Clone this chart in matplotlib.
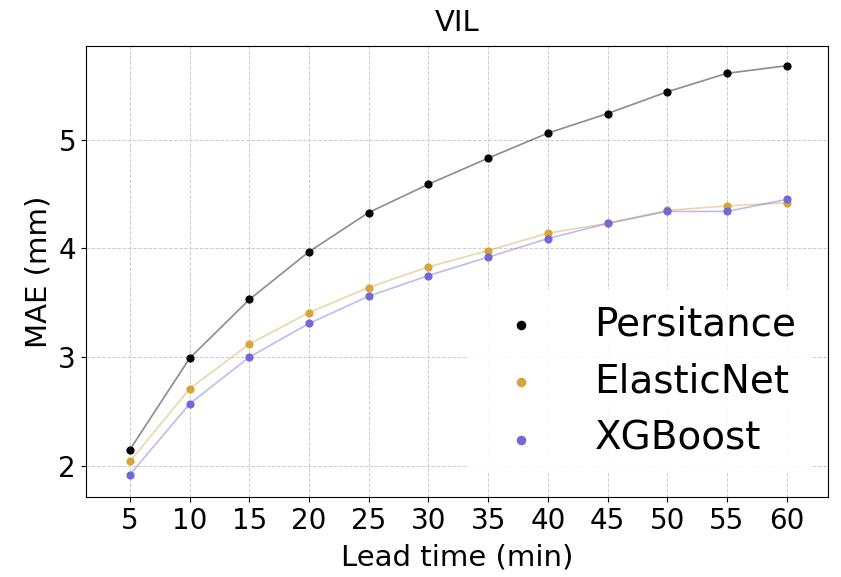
import matplotlib
matplotlib.use("Agg")
import matplotlib.pyplot as plt

lead_time = [5, 10, 15, 20, 25, 30, 35, 40, 45, 50, 55, 60]
persistance = [2.15, 2.99, 3.53, 3.97, 4.33, 4.59, 4.83, 5.06, 5.24, 5.44, 5.61, 5.68]
elasticnet = [2.04, 2.71, 3.12, 3.41, 3.64, 3.83, 3.98, 4.14, 4.23, 4.35, 4.39, 4.42]
xgboost = [1.92, 2.57, 3.00, 3.31, 3.56, 3.75, 3.92, 4.09, 4.23, 4.34, 4.34, 4.45]

names = ["Persitance", "ElasticNet", "XGBoost"]
colors = ["black", "#d9a53a", "#7467d8"]

fig, ax = plt.subplots(figsize=(8.41, 5.77), dpi=100)

for vals, name, c in zip([persistance, elasticnet, xgboost], names, colors):
    ax.plot(lead_time, vals, color=c, alpha=0.45, linewidth=1.2)
    ax.scatter(lead_time, vals, color=c, s=24, label=name, zorder=3)

ax.set_xticks(lead_time)
ax.set_yticks([2, 3, 4, 5])
ax.set_xlim(1.3, 63.5)
ax.set_ylim(1.71, 5.86)
ax.grid(True, linestyle="--", linewidth=0.7, color="#cccccc")
ax.tick_params(labelsize=20)
ax.set_xlabel("Lead time (min)", fontsize=21, labelpad=6)
ax.set_ylabel("MAE (mm)", fontsize=21, labelpad=4)
ax.set_title("VIL", fontsize=21, pad=11)

# legend: no visible border, big text
leg = ax.legend(fontsize=28, loc="lower right", bbox_to_anchor=(0.978, 0.053),
                frameon=True, edgecolor="none", framealpha=0.9,
                handletextpad=0.9, labelspacing=0.5, borderaxespad=0,
                markerscale=1.2)

fig.subplots_adjust(left=0.102, right=0.985, top=0.92, bottom=0.138)
fig.savefig("out.png")
